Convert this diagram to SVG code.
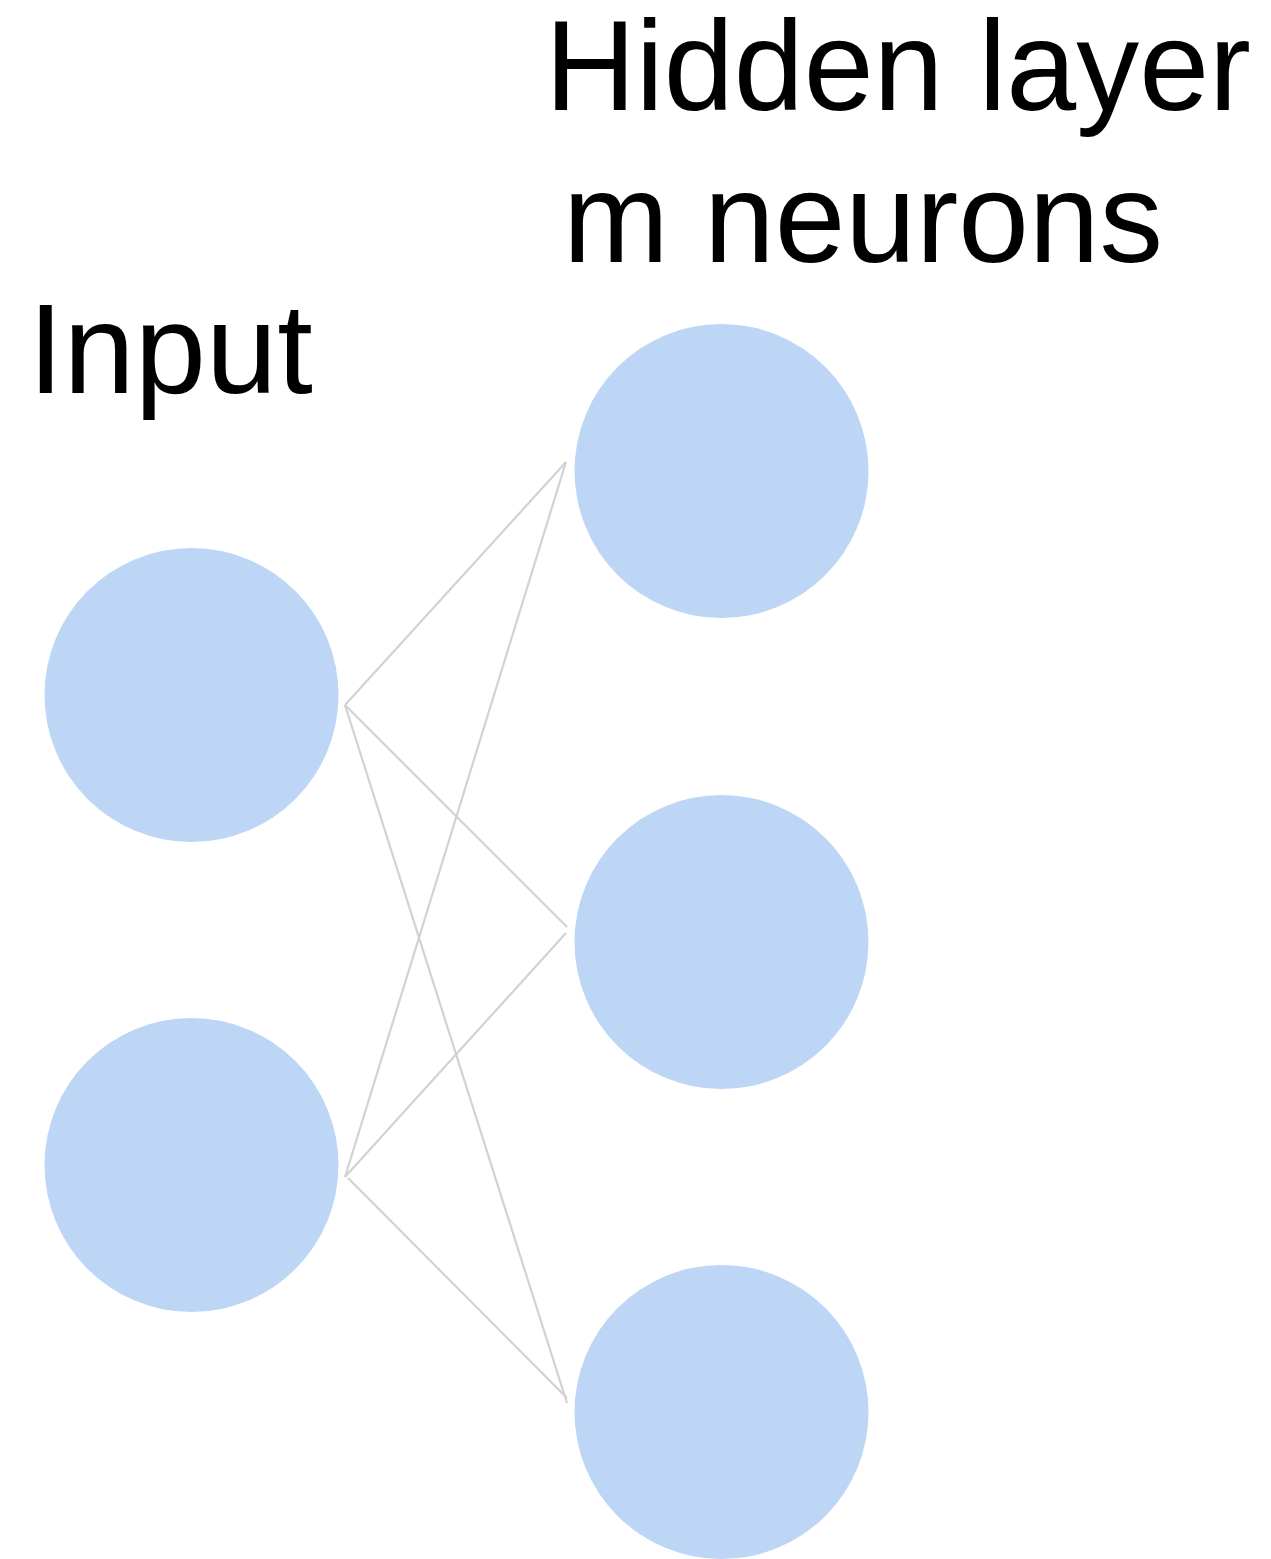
<svg xmlns="http://www.w3.org/2000/svg" width="1271" height="1559" viewBox="0 0 1271 1559">
<style>
.n{fill:#bed6f6}
.c line{stroke:#d2d2d2;stroke-width:2.2;fill:none}
.t{font-family:"Liberation Sans",Arial,sans-serif;font-size:128px;fill:#000}
</style>
<rect width="1271" height="1559" fill="#fff"/>
<text class="t" x="545" y="110" textLength="706" lengthAdjust="spacingAndGlyphs">Hidden layer</text>
<text class="t" x="563" y="262" textLength="600" lengthAdjust="spacingAndGlyphs">m neurons</text>
<text class="t" x="28" y="393">Input</text>
<g id="in1"><circle class="n" cx="191.5" cy="695" r="147"/></g>
<g id="in2"><circle class="n" cx="191.5" cy="1165" r="147"/></g>
<g id="h1"><circle class="n" cx="721.5" cy="471" r="147"/></g>
<g id="h2"><circle class="n" cx="721.5" cy="942" r="147"/></g>
<g id="h3"><circle class="n" cx="721.5" cy="1412" r="147"/></g>
<g class="c" id="connectors">
<line x1="345" y1="705" x2="566" y2="462"/>
<line x1="345" y1="705" x2="567" y2="927"/>
<line x1="345" y1="705" x2="567" y2="1403"/>
<line x1="345" y1="1177" x2="566" y2="462"/>
<line x1="345" y1="1177" x2="566" y2="933"/>
<line x1="348" y1="1178" x2="567" y2="1398"/>
</g>
</svg>
